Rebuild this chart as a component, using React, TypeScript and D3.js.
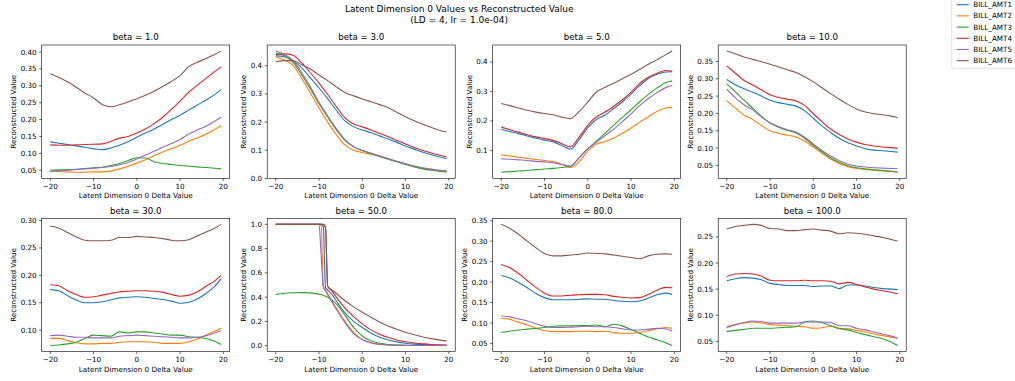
import React from 'react';
import * as d3 from 'd3';

const SERIES = ['BILL_AMT1', 'BILL_AMT2', 'BILL_AMT3', 'BILL_AMT4', 'BILL_AMT5', 'BILL_AMT6'];
const COLORS = ['#1f77b4', '#ff7f0e', '#2ca02c', '#d62728', '#9467bd', '#8c564b'];
const SUPTITLE = ['Latent Dimension 0 Values vs Reconstructed Value', '(LD = 4, lr = 1.0e-04)'];
const X_LABEL = 'Latent Dimension 0 Delta Value';
const Y_LABEL = 'Reconstructed Value';
const X_TICKS = [-20, -10, 0, 10, 20];

// delta values sampled along latent dim 0
const X_STEPS = [-20, -18, -16, -14, -12, -10, -8, -6, -4, -2, 0, 2, 4, 6, 8, 10, 12, 14, 16, 18, 19.5];
const X_STEPS_50 = [-20, -18, -16, -14, -12, -10, -9.5, -9, -8.5, -8, -7, -6, -4, -2, 0, 2, 4, 6, 8, 10, 12, 14, 16, 18, 19.5];

// one row per BILL_AMT series
const BETA_1 = [
  [0.134, 0.130, 0.126, 0.122, 0.118, 0.114, 0.111, 0.116, 0.124, 0.134, 0.148, 0.160, 0.172, 0.186, 0.200, 0.213, 0.228, 0.243, 0.258, 0.274, 0.289],
  [0.047, 0.046, 0.045, 0.044, 0.044, 0.045, 0.045, 0.048, 0.054, 0.062, 0.071, 0.081, 0.093, 0.104, 0.114, 0.124, 0.136, 0.146, 0.157, 0.171, 0.182],
  [0.050, 0.051, 0.052, 0.053, 0.055, 0.057, 0.059, 0.064, 0.070, 0.079, 0.087, 0.086, 0.075, 0.070, 0.067, 0.064, 0.062, 0.060, 0.058, 0.056, 0.054],
  [0.125, 0.124, 0.124, 0.125, 0.126, 0.127, 0.128, 0.136, 0.145, 0.150, 0.160, 0.172, 0.188, 0.207, 0.230, 0.255, 0.281, 0.302, 0.322, 0.342, 0.356],
  [0.047, 0.048, 0.050, 0.052, 0.054, 0.056, 0.058, 0.061, 0.066, 0.073, 0.083, 0.095, 0.106, 0.118, 0.129, 0.141, 0.157, 0.169, 0.180, 0.195, 0.207],
  [0.336, 0.325, 0.312, 0.296, 0.279, 0.264, 0.245, 0.238, 0.244, 0.252, 0.262, 0.272, 0.284, 0.298, 0.313, 0.330, 0.357, 0.370, 0.381, 0.393, 0.403],
];
const BETA_3 = [
  [0.435, 0.432, 0.418, 0.392, 0.357, 0.321, 0.283, 0.242, 0.204, 0.183, 0.172, 0.162, 0.151, 0.140, 0.128, 0.115, 0.104, 0.093, 0.084, 0.076, 0.070],
  [0.432, 0.420, 0.400, 0.355, 0.303, 0.250, 0.200, 0.155, 0.118, 0.100, 0.092, 0.086, 0.079, 0.070, 0.060, 0.051, 0.043, 0.036, 0.031, 0.027, 0.025],
  [0.445, 0.435, 0.412, 0.368, 0.318, 0.265, 0.218, 0.173, 0.135, 0.112, 0.098, 0.088, 0.078, 0.068, 0.059, 0.050, 0.041, 0.034, 0.029, 0.025, 0.022],
  [0.440, 0.442, 0.437, 0.410, 0.375, 0.338, 0.298, 0.255, 0.215, 0.193, 0.183, 0.172, 0.160, 0.148, 0.135, 0.122, 0.110, 0.099, 0.090, 0.082, 0.076],
  [0.452, 0.440, 0.418, 0.375, 0.325, 0.270, 0.222, 0.177, 0.138, 0.113, 0.100, 0.090, 0.080, 0.070, 0.061, 0.052, 0.044, 0.038, 0.033, 0.029, 0.027],
  [0.414, 0.418, 0.418, 0.403, 0.388, 0.367, 0.347, 0.325, 0.305, 0.293, 0.282, 0.272, 0.262, 0.251, 0.235, 0.219, 0.205, 0.192, 0.181, 0.170, 0.165],
];
const BETA_5 = [
  [0.172, 0.164, 0.157, 0.149, 0.142, 0.135, 0.129, 0.117, 0.104, 0.137, 0.177, 0.205, 0.220, 0.242, 0.265, 0.291, 0.320, 0.344, 0.358, 0.366, 0.367],
  [0.085, 0.081, 0.077, 0.073, 0.069, 0.066, 0.062, 0.053, 0.042, 0.062, 0.098, 0.122, 0.130, 0.142, 0.158, 0.176, 0.196, 0.214, 0.232, 0.244, 0.247],
  [0.026, 0.028, 0.030, 0.032, 0.035, 0.037, 0.039, 0.042, 0.046, 0.075, 0.105, 0.132, 0.158, 0.186, 0.212, 0.238, 0.265, 0.290, 0.312, 0.330, 0.336],
  [0.179, 0.170, 0.162, 0.153, 0.146, 0.140, 0.134, 0.123, 0.112, 0.145, 0.185, 0.214, 0.230, 0.250, 0.272, 0.298, 0.327, 0.348, 0.362, 0.371, 0.369],
  [0.072, 0.070, 0.068, 0.066, 0.063, 0.061, 0.058, 0.052, 0.047, 0.075, 0.106, 0.128, 0.150, 0.172, 0.198, 0.224, 0.252, 0.276, 0.296, 0.313, 0.320],
  [0.259, 0.252, 0.244, 0.236, 0.230, 0.225, 0.221, 0.213, 0.208, 0.232, 0.264, 0.298, 0.314, 0.328, 0.343, 0.358, 0.375, 0.392, 0.408, 0.424, 0.437],
];
const BETA_10 = [
  [0.298, 0.283, 0.271, 0.261, 0.250, 0.238, 0.231, 0.226, 0.221, 0.208, 0.186, 0.164, 0.145, 0.128, 0.115, 0.106, 0.098, 0.094, 0.092, 0.090, 0.088],
  [0.237, 0.215, 0.195, 0.182, 0.165, 0.150, 0.142, 0.137, 0.132, 0.120, 0.103, 0.085, 0.068, 0.055, 0.046, 0.041, 0.038, 0.036, 0.034, 0.033, 0.032],
  [0.285, 0.262, 0.238, 0.215, 0.192, 0.172, 0.160, 0.151, 0.143, 0.128, 0.108, 0.089, 0.072, 0.058, 0.049, 0.043, 0.040, 0.037, 0.035, 0.032, 0.030],
  [0.337, 0.316, 0.295, 0.282, 0.268, 0.254, 0.246, 0.241, 0.236, 0.223, 0.199, 0.176, 0.155, 0.139, 0.126, 0.117, 0.110, 0.106, 0.103, 0.101, 0.099],
  [0.270, 0.245, 0.225, 0.210, 0.190, 0.173, 0.162, 0.153, 0.146, 0.131, 0.112, 0.093, 0.077, 0.063, 0.053, 0.048, 0.045, 0.043, 0.042, 0.041, 0.040],
  [0.380, 0.372, 0.363, 0.356, 0.349, 0.342, 0.334, 0.326, 0.318, 0.306, 0.291, 0.274, 0.257, 0.241, 0.226, 0.213, 0.204, 0.199, 0.196, 0.192, 0.188],
];
const BETA_30 = [
  [0.174, 0.172, 0.163, 0.155, 0.150, 0.150, 0.152, 0.155, 0.159, 0.160, 0.161, 0.160, 0.158, 0.156, 0.153, 0.149, 0.151, 0.157, 0.167, 0.180, 0.194],
  [0.085, 0.085, 0.081, 0.077, 0.075, 0.075, 0.076, 0.076, 0.078, 0.079, 0.079, 0.079, 0.078, 0.076, 0.076, 0.076, 0.079, 0.084, 0.091, 0.098, 0.104],
  [0.072, 0.073, 0.075, 0.078, 0.085, 0.091, 0.090, 0.089, 0.097, 0.095, 0.097, 0.097, 0.095, 0.093, 0.091, 0.091, 0.088, 0.087, 0.085, 0.080, 0.074],
  [0.183, 0.181, 0.172, 0.165, 0.160, 0.161, 0.164, 0.167, 0.170, 0.171, 0.172, 0.172, 0.171, 0.169, 0.165, 0.162, 0.164, 0.170, 0.180, 0.190, 0.200],
  [0.090, 0.091, 0.089, 0.087, 0.087, 0.086, 0.086, 0.086, 0.089, 0.090, 0.091, 0.090, 0.089, 0.088, 0.087, 0.086, 0.086, 0.087, 0.090, 0.095, 0.099],
  [0.290, 0.286, 0.278, 0.270, 0.264, 0.263, 0.263, 0.264, 0.269, 0.269, 0.271, 0.270, 0.269, 0.267, 0.264, 0.263, 0.265, 0.272, 0.279, 0.286, 0.293],
];
const BETA_50 = [
  [1, 1, 1, 1, 1, 1, 1, 0.98, 0.48, 0.46, 0.42, 0.37, 0.27, 0.20, 0.15, 0.105, 0.07, 0.047, 0.031, 0.020, 0.013, 0.009, 0.006, 0.004, 0.003],
  [1, 1, 1, 1, 1, 1, 0.99, 0.49, 0.46, 0.43, 0.37, 0.31, 0.20, 0.11, 0.05, 0.022, 0.010, 0.005, 0.003, 0.002, 0.001, 0.001, 0.001, 0.001, 0.001],
  [0.423, 0.432, 0.436, 0.437, 0.435, 0.425, 0.421, 0.415, 0.408, 0.40, 0.375, 0.345, 0.25, 0.15, 0.08, 0.04, 0.02, 0.01, 0.005, 0.003, 0.002, 0.001, 0.001, 0.001, 0.001],
  [1, 1, 1, 1, 1, 1, 1, 1, 0.97, 0.49, 0.45, 0.40, 0.31, 0.24, 0.18, 0.13, 0.095, 0.068, 0.047, 0.032, 0.022, 0.015, 0.010, 0.007, 0.005],
  [1, 1, 1, 1, 1, 1, 0.74, 0.48, 0.45, 0.42, 0.36, 0.30, 0.19, 0.10, 0.05, 0.024, 0.012, 0.006, 0.003, 0.002, 0.001, 0.001, 0.001, 0.001, 0.001],
  [1, 1, 1, 1, 1, 1, 1, 1, 0.98, 0.49, 0.46, 0.43, 0.37, 0.32, 0.275, 0.235, 0.195, 0.163, 0.135, 0.11, 0.09, 0.072, 0.058, 0.046, 0.038],
];
const BETA_80 = [
  [0.216, 0.210, 0.199, 0.186, 0.172, 0.162, 0.157, 0.157, 0.157, 0.158, 0.159, 0.158, 0.158, 0.155, 0.153, 0.152, 0.154, 0.161, 0.169, 0.173, 0.170],
  [0.111, 0.109, 0.102, 0.095, 0.087, 0.081, 0.079, 0.079, 0.079, 0.080, 0.080, 0.079, 0.080, 0.076, 0.075, 0.075, 0.077, 0.081, 0.086, 0.089, 0.087],
  [0.077, 0.080, 0.083, 0.085, 0.087, 0.089, 0.092, 0.093, 0.093, 0.094, 0.094, 0.095, 0.091, 0.097, 0.093, 0.084, 0.075, 0.066, 0.059, 0.052, 0.045],
  [0.243, 0.235, 0.221, 0.204, 0.187, 0.173, 0.166, 0.166, 0.168, 0.169, 0.170, 0.170, 0.169, 0.165, 0.163, 0.161, 0.162, 0.170, 0.180, 0.187, 0.186],
  [0.117, 0.115, 0.110, 0.105, 0.098, 0.092, 0.089, 0.089, 0.090, 0.091, 0.092, 0.091, 0.091, 0.089, 0.086, 0.083, 0.083, 0.085, 0.087, 0.086, 0.080],
  [0.341, 0.331, 0.317, 0.300, 0.284, 0.270, 0.264, 0.264, 0.266, 0.268, 0.271, 0.270, 0.269, 0.266, 0.263, 0.260, 0.257, 0.264, 0.268, 0.269, 0.268],
];
const BETA_100 = [
  [0.166, 0.170, 0.172, 0.171, 0.168, 0.161, 0.159, 0.157, 0.157, 0.157, 0.155, 0.156, 0.156, 0.151, 0.158, 0.158, 0.156, 0.153, 0.151, 0.150, 0.149],
  [0.078, 0.082, 0.085, 0.087, 0.085, 0.082, 0.081, 0.080, 0.079, 0.078, 0.075, 0.076, 0.079, 0.074, 0.074, 0.071, 0.068, 0.064, 0.061, 0.058, 0.056],
  [0.069, 0.071, 0.073, 0.075, 0.075, 0.075, 0.076, 0.077, 0.078, 0.087, 0.089, 0.086, 0.080, 0.075, 0.072, 0.067, 0.063, 0.059, 0.055, 0.049, 0.042],
  [0.174, 0.179, 0.180, 0.179, 0.175, 0.167, 0.166, 0.166, 0.166, 0.167, 0.166, 0.166, 0.165, 0.160, 0.163, 0.159, 0.154, 0.150, 0.147, 0.144, 0.141],
  [0.076, 0.082, 0.086, 0.089, 0.088, 0.085, 0.085, 0.085, 0.085, 0.087, 0.087, 0.087, 0.086, 0.080, 0.080, 0.075, 0.072, 0.068, 0.064, 0.060, 0.056],
  [0.265, 0.270, 0.272, 0.274, 0.272, 0.266, 0.265, 0.262, 0.262, 0.264, 0.265, 0.263, 0.261, 0.256, 0.258, 0.257, 0.255, 0.252, 0.249, 0.245, 0.242],
];

const Y_TICKS_1 = ['0.05', '0.10', '0.15', '0.20', '0.25', '0.30', '0.35', '0.40'];
const Y_TICKS_3 = ['0.0', '0.1', '0.2', '0.3', '0.4'];
const Y_TICKS_5 = ['0.1', '0.2', '0.3', '0.4'];
const Y_TICKS_10 = ['0.05', '0.10', '0.15', '0.20', '0.25', '0.30', '0.35'];
const Y_TICKS_30 = ['0.10', '0.15', '0.20', '0.25', '0.30'];
const Y_TICKS_50 = ['0.0', '0.2', '0.4', '0.6', '0.8', '1.0'];
const Y_TICKS_80 = ['0.05', '0.10', '0.15', '0.20', '0.25', '0.30', '0.35'];
const Y_TICKS_100 = ['0.05', '0.10', '0.15', '0.20', '0.25'];

const PANELS = [
  { title: 'beta = 1.0', xs: X_STEPS, values: BETA_1, yTicks: Y_TICKS_1 },
  { title: 'beta = 3.0', xs: X_STEPS, values: BETA_3, yTicks: Y_TICKS_3 },
  { title: 'beta = 5.0', xs: X_STEPS, values: BETA_5, yTicks: Y_TICKS_5 },
  { title: 'beta = 10.0', xs: X_STEPS, values: BETA_10, yTicks: Y_TICKS_10 },
  { title: 'beta = 30.0', xs: X_STEPS, values: BETA_30, yTicks: Y_TICKS_30 },
  { title: 'beta = 50.0', xs: X_STEPS_50, values: BETA_50, yTicks: Y_TICKS_50 },
  { title: 'beta = 80.0', xs: X_STEPS, values: BETA_80, yTicks: Y_TICKS_80 },
  { title: 'beta = 100.0', xs: X_STEPS, values: BETA_100, yTicks: Y_TICKS_100 },
];

const W = 1015;
const H = 381;
const AX_W = 188;
const AX_H = 133.3;
const COL_LEFT = 41.7;
const COL_STEP = 225.5;
const ROW_TOP = [45, 218.3];
const FONT = 'DejaVu Sans, sans-serif';
const FS = 7.2;
const FS_TITLE = 8.64;
const LW = 1.1;

const fmtX = (v: number) => (v < 0 ? '\u2212' + Math.abs(v) : String(v));
// rough DejaVu Sans advance widths, for placing the y label like matplotlib
const labelWidth = (s: string) => s.split('').reduce((a, c) => a + (c === '.' ? 0.318 : 0.636), 0) * FS;

function Panel({ panel, left, top }: { panel: typeof PANELS[number]; left: number; top: number }) {
  const [x0, x1] = d3.extent(panel.xs) as [number, number];
  const xPad = (x1 - x0) * 0.05;
  const x = d3.scaleLinear().domain([x0 - xPad, x1 + xPad]).range([left, left + AX_W]);

  const flat = panel.values.flat();
  const [y0, y1] = d3.extent(flat) as [number, number];
  const yPad = (y1 - y0) * 0.05;
  const y = d3.scaleLinear().domain([y0 - yPad, y1 + yPad]).range([top + AX_H, top]);

  const line = d3.line<number>()
    .x((_, i) => x(panel.xs[i]))
    .y(d => y(d))
    .curve(d3.curveMonotoneX);

  const bottom = top + AX_H;
  const yLabelX = left - 12.1 - d3.max(panel.yTicks, labelWidth)!;

  return (
    <g>
      <text x={left + AX_W / 2} y={top - 4.6} textAnchor="middle" fontSize={FS_TITLE}>{panel.title}</text>

      {panel.values.map((vals, si) => (
        <path key={si} d={line(vals) || ''} fill="none" stroke={COLORS[si]} strokeWidth={LW} strokeLinejoin="round" />
      ))}

      <rect x={left} y={top} width={AX_W} height={AX_H} fill="none" stroke="#000" strokeWidth={0.6} />

      {X_TICKS.map(t => (
        <g key={t}>
          <line x1={x(t)} x2={x(t)} y1={bottom} y2={bottom + 2.5} stroke="#000" strokeWidth={0.6} />
          <text x={x(t)} y={bottom + 10.3} textAnchor="middle" fontSize={FS}>{fmtX(t)}</text>
        </g>
      ))}
      {panel.yTicks.map(t => (
        <g key={t}>
          <line x1={left - 2.5} x2={left} y1={y(+t)} y2={y(+t)} stroke="#000" strokeWidth={0.6} />
          <text x={left - 5} y={y(+t)} dy="0.35em" textAnchor="end" fontSize={FS}>{t}</text>
        </g>
      ))}

      <text x={left + AX_W / 2} y={bottom + 20} textAnchor="middle" fontSize={FS}>{X_LABEL}</text>
      <text
        transform={`translate(${yLabelX},${top + AX_H / 2}) rotate(-90)`}
        dy="0.35em"
        textAnchor="middle"
        fontSize={FS}
      >{Y_LABEL}</text>
    </g>
  );
}

function Legend() {
  const lx = 951.7;
  const rowY = (i: number) => 4.7 + i * 11.2;
  return (
    <g>
      <rect x={lx} y={-10} width={70} height={78.3} rx={2} fill="#fff" fillOpacity={0.8} stroke="#cccccc" strokeWidth={0.6} />
      {SERIES.map((name, i) => (
        <g key={name}>
          <line x1={lx + 5} x2={lx + 17} y1={rowY(i)} y2={rowY(i)} stroke={COLORS[i]} strokeWidth={LW} />
          <text x={lx + 21.6} y={rowY(i)} dy="0.35em" fontSize={FS}>{name}</text>
        </g>
      ))}
    </g>
  );
}

export default function App() {
  return (
    <svg
      width={W}
      height={H}
      style={{ position: 'absolute', left: 0, top: 0, background: '#fff' }}
      fontFamily={FONT}
      fill="#000"
    >
      <rect width={W} height={H} fill="#fff" />
      <text x={459.2} y={12.3} textAnchor="middle" fontSize={9}>{SUPTITLE[0]}</text>
      <text x={459.2} y={22.5} textAnchor="middle" fontSize={9}>{SUPTITLE[1]}</text>
      {PANELS.map((p, i) => (
        <Panel key={p.title} panel={p} left={COL_LEFT + (i % 4) * COL_STEP} top={ROW_TOP[Math.floor(i / 4)]} />
      ))}
      <Legend />
    </svg>
  );
}
